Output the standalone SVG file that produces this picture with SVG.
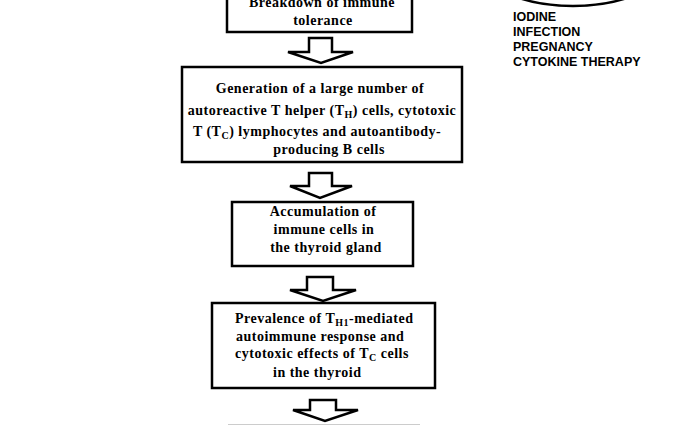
<svg xmlns="http://www.w3.org/2000/svg" width="685" height="425" viewBox="0 0 685 425">
<style>
.box{fill:#fff;stroke:#000;stroke-width:2.5}
.arr{fill:#fff;stroke:#000;stroke-width:2.5;stroke-linejoin:miter}
.t{font-family:"Liberation Serif","Times New Roman",serif;font-weight:bold;font-size:14px;letter-spacing:0.5px;fill:#000;text-anchor:middle}
.l{text-anchor:start}
.sub{font-size:10px}
.f{font-family:"Liberation Sans",Arial,sans-serif;font-weight:bold;font-size:12.5px;fill:#000}
</style>
<rect width="685" height="425" fill="#fff"/>
<g id="factors">
<ellipse cx="573" cy="-42" rx="97" ry="48" fill="none" stroke="#000" stroke-width="2.5"/>
<text class="f" x="513" y="21">IODINE</text>
<text class="f" x="513" y="36">INFECTION</text>
<text class="f" x="513" y="51">PREGNANCY</text>
<text class="f" x="513" y="66">CYTOKINE THERAPY</text>
</g>
<g id="n1">
<rect class="box" x="227" y="-10" width="185" height="42"/>
<text class="t" x="322" y="7">Breakdown of immune</text>
<text class="t" x="323" y="25">tolerance</text>
</g>
<g id="n2">
<rect class="box" x="182" y="67" width="280" height="95"/>
<text class="t" x="320" y="93">Generation of a large number of</text>
<text class="t" x="322" y="115">autoreactive T helper (T<tspan class="sub" dy="3">H</tspan><tspan dy="-3">) cells, cytotoxic</tspan></text>
<text class="t" x="317" y="136">T (T<tspan class="sub" dy="3">C</tspan><tspan dy="-3">) lymphocytes and autoantibody-</tspan></text>
<text class="t" x="329" y="154">producing B cells</text>
</g>
<g id="n3">
<rect class="box" x="232" y="202" width="181" height="64"/>
<text class="t" x="323" y="216">Accumulation of</text>
<text class="t" x="324" y="234">immune cells in</text>
<text class="t" x="326" y="252">the thyroid gland</text>
</g>
<g id="n4">
<rect class="box" x="212" y="303" width="223" height="85"/>
<text class="t l" x="235" y="323">Prevalence of T<tspan class="sub" dy="3">H1</tspan><tspan dy="-3">-mediated</tspan></text>
<text class="t l" x="236" y="341">autoimmune response and</text>
<text class="t l" x="235" y="358">cytotoxic effects of T<tspan class="sub" dy="3">C</tspan><tspan dy="-3"> cells</tspan></text>
<text class="t l" x="273" y="377">in the thyroid</text>
</g>
<g id="connectors">
<polygon class="arr" points="309,38 332,38 332,52 353,52 321,63 288,52 309,52"/>
<polygon class="arr" points="309,173 332,173 332,186 352,186 320,198 290,186 309,186"/>
<polygon class="arr" points="307,277 333,277 333,290 356,290 323,301 290,290 307,290"/>
<polygon class="arr" points="310,400 336,400 336,410 358,410 325,421 293,410 310,410"/>
</g>
<line x1="228" y1="424.5" x2="420" y2="424.5" stroke="#ccc" stroke-width="1"/>
</svg>
